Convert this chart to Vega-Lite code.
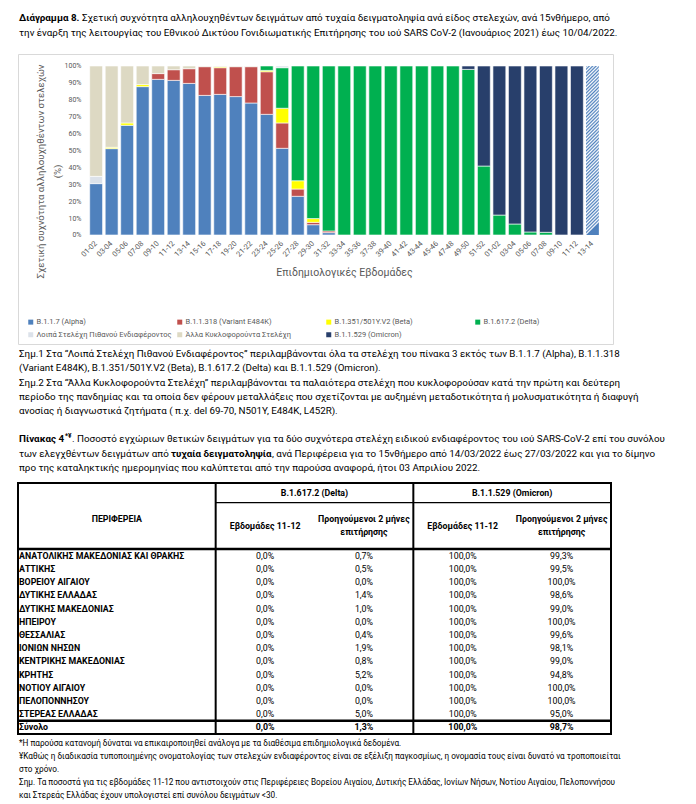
{
"$schema": "https://vega.github.io/schema/vega-lite/v6.json",
"padding": {"left": 15, "top": 0, "right": 0, "bottom": 0},
"spacing": 0,
"config": {
  "font": "Roboto",
  "view": {"stroke": null},
  "locale": {"number": {"decimal": ",", "thousands": ".", "grouping": [3], "currency": ["", " €"]}}
},
"datasets": {
  "cap": [
    {"id": "c1", "s": 0, "txt": "Διάγραμμα 8."},
    {"id": "c1", "s": 1, "txt": "Σχετική συχνότητα αλληλουχηθέντων δειγμάτων από τυχαία δειγματοληψία ανά είδος στελεχών, ανά 15νθήμερο, από"},
    {"id": "c2", "s": 0, "txt": "την έναρξη της λειτουργίας του Εθνικού Δικτύου Γονιδιωματικής Επιτήρησης του ιού SARS CoV-2 (Ιανουάριος 2021) έως 10/04/2022."}
  ],
  "variants": [
    {"v": "B.1.1.7 (Alpha)", "k": 1},
    {"v": "B.1.1.318 (Variant E484K)", "k": 2},
    {"v": "B.1.351/501Y.V2 (Beta)", "k": 3},
    {"v": "B.1.617.2 (Delta)", "k": 4},
    {"v": "Λοιπά Στελέχη Πιθανού Ενδιαφέροντος", "k": 5},
    {"v": "Άλλα Κυκλοφορούντα Στελέχη", "k": 6},
    {"v": "B.1.1.529 (Omicron)", "k": 7}
  ],
  "bars": [
    {"t": "2021/01-02", "v": "B.1.1.7 (Alpha)", "p": 30.4},
    {"t": "2021/01-02", "v": "Λοιπά Στελέχη Πιθανού Ενδιαφέροντος", "p": 4.3},
    {"t": "2021/01-02", "v": "Άλλα Κυκλοφορούντα Στελέχη", "p": 65.3},
    {"t": "2021/03-04", "v": "B.1.1.7 (Alpha)", "p": 51.1},
    {"t": "2021/03-04", "v": "B.1.351/501Y.V2 (Beta)", "p": 0.8},
    {"t": "2021/03-04", "v": "Άλλα Κυκλοφορούντα Στελέχη", "p": 48.1},
    {"t": "2021/05-06", "v": "B.1.1.7 (Alpha)", "p": 64.9},
    {"t": "2021/05-06", "v": "B.1.351/501Y.V2 (Beta)", "p": 1.4},
    {"t": "2021/05-06", "v": "Άλλα Κυκλοφορούντα Στελέχη", "p": 33.7},
    {"t": "2021/07-08", "v": "B.1.1.7 (Alpha)", "p": 87.8},
    {"t": "2021/07-08", "v": "B.1.351/501Y.V2 (Beta)", "p": 1.2},
    {"t": "2021/07-08", "v": "Άλλα Κυκλοφορούντα Στελέχη", "p": 11.0},
    {"t": "2021/09-10", "v": "B.1.1.7 (Alpha)", "p": 92.1},
    {"t": "2021/09-10", "v": "B.1.1.318 (Variant E484K)", "p": 3.4},
    {"t": "2021/09-10", "v": "Άλλα Κυκλοφορούντα Στελέχη", "p": 4.5},
    {"t": "2021/11-12", "v": "B.1.1.7 (Alpha)", "p": 91.5},
    {"t": "2021/11-12", "v": "B.1.1.318 (Variant E484K)", "p": 6.3},
    {"t": "2021/11-12", "v": "Άλλα Κυκλοφορούντα Στελέχη", "p": 2.2},
    {"t": "2021/13-14", "v": "B.1.1.7 (Alpha)", "p": 89.7},
    {"t": "2021/13-14", "v": "B.1.1.318 (Variant E484K)", "p": 8.7},
    {"t": "2021/13-14", "v": "Άλλα Κυκλοφορούντα Στελέχη", "p": 1.6},
    {"t": "2021/15-16", "v": "B.1.1.7 (Alpha)", "p": 82.6},
    {"t": "2021/15-16", "v": "B.1.1.318 (Variant E484K)", "p": 17.0},
    {"t": "2021/15-16", "v": "Άλλα Κυκλοφορούντα Στελέχη", "p": 0.4},
    {"t": "2021/17-18", "v": "B.1.1.7 (Alpha)", "p": 83.2},
    {"t": "2021/17-18", "v": "B.1.1.318 (Variant E484K)", "p": 15.8},
    {"t": "2021/17-18", "v": "B.1.351/501Y.V2 (Beta)", "p": 0.6},
    {"t": "2021/17-18", "v": "Άλλα Κυκλοφορούντα Στελέχη", "p": 0.4},
    {"t": "2021/19-20", "v": "B.1.1.7 (Alpha)", "p": 81.9},
    {"t": "2021/19-20", "v": "B.1.1.318 (Variant E484K)", "p": 17.7},
    {"t": "2021/19-20", "v": "Άλλα Κυκλοφορούντα Στελέχη", "p": 0.4},
    {"t": "2021/21-22", "v": "B.1.1.7 (Alpha)", "p": 78.1},
    {"t": "2021/21-22", "v": "B.1.1.318 (Variant E484K)", "p": 21.5},
    {"t": "2021/21-22", "v": "Άλλα Κυκλοφορούντα Στελέχη", "p": 0.4},
    {"t": "2021/23-24", "v": "B.1.1.7 (Alpha)", "p": 71.4},
    {"t": "2021/23-24", "v": "B.1.1.318 (Variant E484K)", "p": 25.2},
    {"t": "2021/23-24", "v": "B.1.351/501Y.V2 (Beta)", "p": 0.8},
    {"t": "2021/23-24", "v": "B.1.617.2 (Delta)", "p": 2.6},
    {"t": "2021/25-26", "v": "B.1.1.7 (Alpha)", "p": 51.3},
    {"t": "2021/25-26", "v": "B.1.1.318 (Variant E484K)", "p": 15.0},
    {"t": "2021/25-26", "v": "B.1.351/501Y.V2 (Beta)", "p": 8.7},
    {"t": "2021/25-26", "v": "B.1.617.2 (Delta)", "p": 24.0},
    {"t": "2021/25-26", "v": "Λοιπά Στελέχη Πιθανού Ενδιαφέροντος", "p": 1.0},
    {"t": "2021/27-28", "v": "B.1.1.7 (Alpha)", "p": 22.9},
    {"t": "2021/27-28", "v": "B.1.1.318 (Variant E484K)", "p": 4.3},
    {"t": "2021/27-28", "v": "B.1.351/501Y.V2 (Beta)", "p": 4.9},
    {"t": "2021/27-28", "v": "B.1.617.2 (Delta)", "p": 67.9},
    {"t": "2021/29-30", "v": "B.1.1.7 (Alpha)", "p": 6.1},
    {"t": "2021/29-30", "v": "B.1.1.318 (Variant E484K)", "p": 1.4},
    {"t": "2021/29-30", "v": "B.1.351/501Y.V2 (Beta)", "p": 2.2},
    {"t": "2021/29-30", "v": "B.1.617.2 (Delta)", "p": 90.3},
    {"t": "2021/31-32", "v": "B.1.1.7 (Alpha)", "p": 1.4},
    {"t": "2021/31-32", "v": "B.1.1.318 (Variant E484K)", "p": 1.0},
    {"t": "2021/31-32", "v": "B.1.617.2 (Delta)", "p": 97.6},
    {"t": "2021/33-34", "v": "B.1.617.2 (Delta)", "p": 100},
    {"t": "2021/35-36", "v": "B.1.617.2 (Delta)", "p": 100},
    {"t": "2021/37-38", "v": "B.1.617.2 (Delta)", "p": 100},
    {"t": "2021/39-40", "v": "B.1.617.2 (Delta)", "p": 100},
    {"t": "2021/41-42", "v": "B.1.617.2 (Delta)", "p": 100},
    {"t": "2021/43-44", "v": "B.1.617.2 (Delta)", "p": 100},
    {"t": "2021/45-46", "v": "B.1.617.2 (Delta)", "p": 100},
    {"t": "2021/47-48", "v": "B.1.617.2 (Delta)", "p": 100},
    {"t": "2021/49-50", "v": "B.1.617.2 (Delta)", "p": 98.0},
    {"t": "2021/49-50", "v": "B.1.1.529 (Omicron)", "p": 2.0},
    {"t": "2021/51-52", "v": "B.1.617.2 (Delta)", "p": 40.8},
    {"t": "2021/51-52", "v": "B.1.1.529 (Omicron)", "p": 59.2},
    {"t": "2022/01-02", "v": "B.1.617.2 (Delta)", "p": 11.8},
    {"t": "2022/01-02", "v": "B.1.1.529 (Omicron)", "p": 88.2},
    {"t": "2022/03-04", "v": "B.1.617.2 (Delta)", "p": 6.5},
    {"t": "2022/03-04", "v": "B.1.1.529 (Omicron)", "p": 93.5},
    {"t": "2022/05-06", "v": "B.1.617.2 (Delta)", "p": 1.8},
    {"t": "2022/05-06", "v": "B.1.1.529 (Omicron)", "p": 98.2},
    {"t": "2022/07-08", "v": "B.1.617.2 (Delta)", "p": 1.6},
    {"t": "2022/07-08", "v": "B.1.1.529 (Omicron)", "p": 98.4},
    {"t": "2022/09-10", "v": "B.1.1.529 (Omicron)", "p": 100},
    {"t": "2022/11-12", "v": "B.1.1.529 (Omicron)", "p": 100}
  ],
  "notes": [
    {"id": "n1", "s": 0, "txt": "Σημ.1 Στα “Λοιπά Στελέχη Πιθανού Ενδιαφέροντος” περιλαμβάνονται όλα τα στελέχη του πίνακα 3 εκτός των B.1.1.7 (Alpha), B.1.1.318"},
    {"id": "n2", "s": 0, "txt": "(Variant E484K), B.1.351/501Y.V2 (Beta), B.1.617.2 (Delta) και B.1.1.529 (Omicron)."},
    {"id": "n3", "s": 0, "txt": "Σημ.2 Στα “Άλλα Κυκλοφορούντα Στελέχη” περιλαμβάνονται τα παλαιότερα στελέχη που κυκλοφορούσαν κατά την πρώτη και δεύτερη"},
    {"id": "n4", "s": 0, "txt": "περίοδο της πανδημίας και τα οποία δεν φέρουν μεταλλάξεις που σχετίζονται με αυξημένη μεταδοτικότητα ή μολυσματικότητα ή διαφυγή"},
    {"id": "n5", "s": 0, "txt": "ανοσίας ή διαγνωστικά ζητήματα ( π.χ. del 69-70, N501Y, E484K, L452R)."},
    {"id": "t1", "s": 0, "txt": "Πίνακας 4"},
    {"id": "t1", "s": 1, "txt": "*¥"},
    {"id": "t1", "s": 2, "txt": ". Ποσοστό εγχώριων θετικών δειγμάτων για τα δύο συχνότερα στελέχη ειδικού ενδιαφέροντος του ιού SARS-CoV-2 επί του συνόλου"},
    {"id": "t2", "s": 0, "txt": "των ελεγχθέντων δειγμάτων από"},
    {"id": "t2", "s": 1, "txt": "τυχαία δειγματοληψία"},
    {"id": "t2", "s": 2, "txt": ", ανά Περιφέρεια για το 15νθήμερο από 14/03/2022 έως 27/03/2022 και για το δίμηνο"},
    {"id": "t3", "s": 0, "txt": "προ της καταληκτικής ημερομηνίας που καλύπτεται από την παρούσα αναφορά, ήτοι 03 Απριλίου 2022."}
  ],
  "hdr": [
    {"r": "H1", "c": "d2", "txt": "B.1.617.2 (Delta)"},
    {"r": "H1", "c": "o2", "txt": "B.1.1.529 (Omicron)"},
    {"r": "H3", "c": "reg2", "txt": "ΠΕΡΙΦΕΡΕΙΑ"},
    {"r": "H3", "c": "d2", "txt": "Προηγούμενοι 2 μήνες"},
    {"r": "H3", "c": "o2", "txt": "Προηγούμενοι 2 μήνες"},
    {"r": "H4", "c": "d2", "txt": "επιτήρησης"},
    {"r": "H4", "c": "o2", "txt": "επιτήρησης"},
    {"r": "H4", "c": "d1", "txt": "Εβδομάδες 11-12"},
    {"r": "H4", "c": "o1", "txt": "Εβδομάδες 11-12"}
  ],
  "tbl": [
    {"r": "R01", "n": "ΑΝΑΤΟΛΙΚΗΣ ΜΑΚΕΔΟΝΙΑΣ ΚΑΙ ΘΡΑΚΗΣ", "d1": 0, "d2": 0.007, "o1": 1, "o2": 0.993},
    {"r": "R02", "n": "ΑΤΤΙΚΗΣ", "d1": 0, "d2": 0.005, "o1": 1, "o2": 0.995},
    {"r": "R03", "n": "ΒΟΡΕΙΟΥ ΑΙΓΑΙΟΥ", "d1": 0, "d2": 0, "o1": 1, "o2": 1},
    {"r": "R04", "n": "ΔΥΤΙΚΗΣ ΕΛΛΑΔΑΣ", "d1": 0, "d2": 0.014, "o1": 1, "o2": 0.986},
    {"r": "R05", "n": "ΔΥΤΙΚΗΣ ΜΑΚΕΔΟΝΙΑΣ", "d1": 0, "d2": 0.01, "o1": 1, "o2": 0.99},
    {"r": "R06", "n": "ΗΠΕΙΡΟΥ", "d1": 0, "d2": 0, "o1": 1, "o2": 1},
    {"r": "R07", "n": "ΘΕΣΣΑΛΙΑΣ", "d1": 0, "d2": 0.004, "o1": 1, "o2": 0.996},
    {"r": "R08", "n": "ΙΟΝΙΩΝ ΝΗΣΩΝ", "d1": 0, "d2": 0.019, "o1": 1, "o2": 0.981},
    {"r": "R09", "n": "ΚΕΝΤΡΙΚΗΣ ΜΑΚΕΔΟΝΙΑΣ", "d1": 0, "d2": 0.008, "o1": 1, "o2": 0.99},
    {"r": "R10", "n": "ΚΡΗΤΗΣ", "d1": 0, "d2": 0.052, "o1": 1, "o2": 0.948},
    {"r": "R11", "n": "ΝΟΤΙΟΥ ΑΙΓΑΙΟΥ", "d1": 0, "d2": 0, "o1": 1, "o2": 1},
    {"r": "R12", "n": "ΠΕΛΟΠΟΝΝΗΣΟΥ", "d1": 0, "d2": 0, "o1": 1, "o2": 1},
    {"r": "R13", "n": "ΣΤΕΡΕΑΣ ΕΛΛΑΔΑΣ", "d1": 0, "d2": 0.05, "o1": 1, "o2": 0.95},
    {"r": "TOT", "n": "Σύνολο", "d1": 0, "d2": 0.013, "o1": 1, "o2": 0.987}
  ],
  "foot": [
    {"id": "f1", "txt": "\u00a0*Η παρούσα κατανομή δύναται να επικαιροποιηθεί ανάλογα με τα διαθέσιμα επιδημιολογικά δεδομένα."},
    {"id": "f2", "txt": "\u00a0¥Καθώς η διαδικασία τυποποιημένης ονοματολογίας των στελεχών ενδιαφέροντος είναι σε εξέλιξη παγκοσμίως, η ονομασία τους είναι δυνατό να τροποποιείται"},
    {"id": "f3", "txt": "\u00a0\u00a0\u00a0στο χρόνο."},
    {"id": "f4", "txt": "\u00a0\u00a0Σημ. Τα ποσοστά για τις εβδομάδες 11-12 που αντιστοιχούν στις Περιφέρειες Βορείου Αιγαίου, Δυτικής Ελλάδας, Ιονίων Νήσων, Νοτίου Αιγαίου, Πελοποννήσου"},
    {"id": "f5", "txt": "και Στερεάς Ελλάδας έχουν υπολογιστεί επί συνόλου δειγμάτων <30."}
  ]
},
"vconcat": [
  {
    "width": 681, "height": 53,
    "data": {"name": "cap"},
    "encoding": {
      "y": {"field": "id", "type": "nominal", "bandPosition": 0.5, "scale": {"type": "band", "domain": ["c1", "c2"], "paddingInner": 0, "paddingOuter": 0.767, "align": 0.457}, "axis": null},
      "x": {"datum": 0, "type": "quantitative", "scale": {"domain": [0, 1]}, "axis": null}
    },
    "layer": [
      {"transform": [{"filter": "datum.id == 'c1' && datum.s == 0"}], "mark": {"type": "text", "align": "left", "baseline": "middle", "fontSize": 9.8, "fontWeight": "bold", "dx": 1, "color": "#000"}, "encoding": {"text": {"field": "txt"}}},
      {"transform": [{"filter": "datum.id == 'c2'"}], "mark": {"type": "text", "align": "left", "baseline": "middle", "fontSize": 9.8, "dx": 1, "color": "#000"}, "encoding": {"text": {"field": "txt"}}},
      {"transform": [{"filter": "datum.id == 'c1' && datum.s == 1"}], "mark": {"type": "text", "align": "left", "baseline": "middle", "fontSize": 9.8, "dx": 64, "color": "#000"}, "encoding": {"text": {"field": "txt"}}}
    ]
  },
  {
    "width": 595, "height": 290,
    "view": {"stroke": "#d9d9d9", "strokeWidth": 1},
    "data": {"name": "bars"},
    "encoding": {
      "x": {"field": "t", "type": "ordinal",
        "scale": {"domain": ["p1","p2","p3","p4","2021/01-02","2021/03-04","2021/05-06","2021/07-08","2021/09-10","2021/11-12","2021/13-14","2021/15-16","2021/17-18","2021/19-20","2021/21-22","2021/23-24","2021/25-26","2021/27-28","2021/29-30","2021/31-32","2021/33-34","2021/35-36","2021/37-38","2021/39-40","2021/41-42","2021/43-44","2021/45-46","2021/47-48","2021/49-50","2021/51-52","2022/01-02","2022/03-04","2022/05-06","2022/07-08","2022/09-10","2022/11-12","2022/13-14"], "paddingInner": 0.17, "paddingOuter": 0.767, "align": 0.406},
        "axis": {"labelExpr": "slice(datum.label, 5)", "labelAngle": -45, "labelAlign": "right", "labelBaseline": "middle", "labelFontSize": 7.5, "labelColor": "#595959", "labelPadding": 7, "labelOverlap": false, "ticks": false, "domain": false, "offset": -109,
          "title": "Επιδημιολογικές Εβδομάδες", "titleFontSize": 10.5, "titleFontWeight": "normal", "titleColor": "#595959", "titleX": 326, "titleY": 37, "titleAlign": "center", "titleBaseline": "middle"}},
      "y": {"field": "p", "type": "quantitative", "stack": "zero",
        "scale": {"domain": [-64.5, 107.1], "nice": false, "zero": false},
        "axis": {"values": [0, 10, 20, 30, 40, 50, 60, 70, 80, 90, 100], "labelExpr": "datum.value + '%'", "offset": -66, "domain": false, "ticks": false, "grid": false, "labelFontSize": 7, "labelColor": "#595959", "labelPadding": 3,
          "title": ["Σχετική συχνότητα αλληλουχηθέντων στελεχών", "(%)"], "titleFontSize": 9.6, "titleFontWeight": "normal", "titleColor": "#595959", "titleX": -49, "titleY": 117, "titleAlign": "center", "titleBaseline": "top", "titleLineHeight": 17, "titleAngle": 270}}
    },
    "layer": [
      {
        "transform": [{"lookup": "v", "from": {"data": {"name": "variants"}, "key": "v", "fields": ["k"]}}],
        "mark": {"type": "bar", "stroke": "#ffffff", "strokeWidth": 0.6},
        "encoding": {
          "order": {"field": "k", "type": "quantitative", "sort": "ascending"},
          "color": {"field": "v", "type": "nominal",
            "sort": ["B.1.1.7 (Alpha)", "B.1.1.318 (Variant E484K)", "B.1.351/501Y.V2 (Beta)", "B.1.617.2 (Delta)", "Λοιπά Στελέχη Πιθανού Ενδιαφέροντος", "Άλλα Κυκλοφορούντα Στελέχη", "B.1.1.529 (Omicron)"],
            "scale": {"domain": ["B.1.1.7 (Alpha)", "B.1.1.318 (Variant E484K)", "B.1.351/501Y.V2 (Beta)", "B.1.617.2 (Delta)", "Λοιπά Στελέχη Πιθανού Ενδιαφέροντος", "Άλλα Κυκλοφορούντα Στελέχη", "B.1.1.529 (Omicron)"],
              "range": ["#4f81bd", "#c0504d", "#ffff00", "#00b050", "#dce2ea", "#ddd9c3", "#283f6b"]},
            "legend": {"orient": "none", "legendX": 9, "legendY": 318, "direction": "horizontal", "columns": 4, "gridAlign": "all", "columnPadding": 4, "rowPadding": 4, "title": null, "symbolType": "square", "symbolSize": 25, "symbolStrokeWidth": 0, "labelFontSize": 7.5, "labelColor": "#595959", "labelOffset": 2, "labelLimit": 300, "padding": 0}}
        }
      },
      {
        "data": {"values": [{"t": "2022/13-14", "p": 100}]},
        "mark": {"type": "bar", "color": {"gradient": "linear", "x1": 0, "y1": 0, "x2": 0.0763, "y2": 1, "stops": [
          {"offset": 0, "color": "#4f81bd"}, {"offset": 0.01, "color": "#fff"}, {"offset": 0.02, "color": "#4f81bd"}, {"offset": 0.03, "color": "#fff"}, {"offset": 0.04, "color": "#4f81bd"}, {"offset": 0.05, "color": "#fff"}, {"offset": 0.06, "color": "#4f81bd"}, {"offset": 0.07, "color": "#fff"}, {"offset": 0.08, "color": "#4f81bd"}, {"offset": 0.09, "color": "#fff"},
          {"offset": 0.1, "color": "#4f81bd"}, {"offset": 0.11, "color": "#fff"}, {"offset": 0.12, "color": "#4f81bd"}, {"offset": 0.13, "color": "#fff"}, {"offset": 0.14, "color": "#4f81bd"}, {"offset": 0.15, "color": "#fff"}, {"offset": 0.16, "color": "#4f81bd"}, {"offset": 0.17, "color": "#fff"}, {"offset": 0.18, "color": "#4f81bd"}, {"offset": 0.19, "color": "#fff"},
          {"offset": 0.2, "color": "#4f81bd"}, {"offset": 0.21, "color": "#fff"}, {"offset": 0.22, "color": "#4f81bd"}, {"offset": 0.23, "color": "#fff"}, {"offset": 0.24, "color": "#4f81bd"}, {"offset": 0.25, "color": "#fff"}, {"offset": 0.26, "color": "#4f81bd"}, {"offset": 0.27, "color": "#fff"}, {"offset": 0.28, "color": "#4f81bd"}, {"offset": 0.29, "color": "#fff"},
          {"offset": 0.3, "color": "#4f81bd"}, {"offset": 0.31, "color": "#fff"}, {"offset": 0.32, "color": "#4f81bd"}, {"offset": 0.33, "color": "#fff"}, {"offset": 0.34, "color": "#4f81bd"}, {"offset": 0.35, "color": "#fff"}, {"offset": 0.36, "color": "#4f81bd"}, {"offset": 0.37, "color": "#fff"}, {"offset": 0.38, "color": "#4f81bd"}, {"offset": 0.39, "color": "#fff"},
          {"offset": 0.4, "color": "#4f81bd"}, {"offset": 0.41, "color": "#fff"}, {"offset": 0.42, "color": "#4f81bd"}, {"offset": 0.43, "color": "#fff"}, {"offset": 0.44, "color": "#4f81bd"}, {"offset": 0.45, "color": "#fff"}, {"offset": 0.46, "color": "#4f81bd"}, {"offset": 0.47, "color": "#fff"}, {"offset": 0.48, "color": "#4f81bd"}, {"offset": 0.49, "color": "#fff"},
          {"offset": 0.5, "color": "#4f81bd"}, {"offset": 0.51, "color": "#fff"}, {"offset": 0.52, "color": "#4f81bd"}, {"offset": 0.53, "color": "#fff"}, {"offset": 0.54, "color": "#4f81bd"}, {"offset": 0.55, "color": "#fff"}, {"offset": 0.56, "color": "#4f81bd"}, {"offset": 0.57, "color": "#fff"}, {"offset": 0.58, "color": "#4f81bd"}, {"offset": 0.59, "color": "#fff"},
          {"offset": 0.6, "color": "#4f81bd"}, {"offset": 0.61, "color": "#fff"}, {"offset": 0.62, "color": "#4f81bd"}, {"offset": 0.63, "color": "#fff"}, {"offset": 0.64, "color": "#4f81bd"}, {"offset": 0.65, "color": "#fff"}, {"offset": 0.66, "color": "#4f81bd"}, {"offset": 0.67, "color": "#fff"}, {"offset": 0.68, "color": "#4f81bd"}, {"offset": 0.69, "color": "#fff"},
          {"offset": 0.7, "color": "#4f81bd"}, {"offset": 0.71, "color": "#fff"}, {"offset": 0.72, "color": "#4f81bd"}, {"offset": 0.73, "color": "#fff"}, {"offset": 0.74, "color": "#4f81bd"}, {"offset": 0.75, "color": "#fff"}, {"offset": 0.76, "color": "#4f81bd"}, {"offset": 0.77, "color": "#fff"}, {"offset": 0.78, "color": "#4f81bd"}, {"offset": 0.79, "color": "#fff"},
          {"offset": 0.8, "color": "#4f81bd"}, {"offset": 0.81, "color": "#fff"}, {"offset": 0.82, "color": "#4f81bd"}, {"offset": 0.83, "color": "#fff"}, {"offset": 0.84, "color": "#4f81bd"}, {"offset": 0.85, "color": "#fff"}, {"offset": 0.86, "color": "#4f81bd"}, {"offset": 0.87, "color": "#fff"}, {"offset": 0.88, "color": "#4f81bd"}, {"offset": 0.89, "color": "#fff"},
          {"offset": 0.9, "color": "#4f81bd"}, {"offset": 0.91, "color": "#fff"}, {"offset": 0.92, "color": "#4f81bd"}, {"offset": 0.93, "color": "#fff"}, {"offset": 0.94, "color": "#4f81bd"}, {"offset": 0.95, "color": "#fff"}, {"offset": 0.96, "color": "#4f81bd"}, {"offset": 0.97, "color": "#fff"}, {"offset": 0.98, "color": "#4f81bd"}, {"offset": 0.99, "color": "#fff"},
          {"offset": 1, "color": "#4f81bd"}
        ]}}
      }
    ]
  },
  {
    "width": 681, "height": 136,
    "data": {"name": "notes"},
    "encoding": {
      "y": {"field": "id", "type": "nominal", "bandPosition": 0.5, "scale": {"type": "band", "domain": ["n1", "n2", "n3", "n4", "n5", "gap", "t1", "t2", "t3"], "paddingInner": 0, "paddingOuter": 0.272, "align": 0.242}, "axis": null},
      "x": {"datum": 0, "type": "quantitative", "scale": {"domain": [0, 1]}, "axis": null}
    },
    "layer": [
      {"transform": [{"filter": "datum.s == 0 && datum.id != 't1'"}], "mark": {"type": "text", "align": "left", "baseline": "middle", "fontSize": 9.8, "dx": 1, "color": "#000"}, "encoding": {"text": {"field": "txt"}}},
      {"transform": [{"filter": "datum.id == 't1' && datum.s == 0"}], "mark": {"type": "text", "align": "left", "baseline": "middle", "fontSize": 9.8, "fontWeight": "bold", "dx": 1, "color": "#000"}, "encoding": {"text": {"field": "txt"}}},
      {"transform": [{"filter": "datum.id == 't1' && datum.s == 1"}], "mark": {"type": "text", "align": "left", "baseline": "middle", "fontSize": 6.5, "fontWeight": "bold", "dx": 47, "dy": -3, "color": "#000"}, "encoding": {"text": {"field": "txt"}}},
      {"transform": [{"filter": "datum.id == 't1' && datum.s == 2"}], "mark": {"type": "text", "align": "left", "baseline": "middle", "fontSize": 9.8, "dx": 54, "color": "#000"}, "encoding": {"text": {"field": "txt"}}},
      {"transform": [{"filter": "datum.id == 't2' && datum.s == 1"}], "mark": {"type": "text", "align": "left", "baseline": "middle", "fontSize": 9.8, "fontWeight": "bold", "dx": 153, "color": "#000"}, "encoding": {"text": {"field": "txt"}}},
      {"transform": [{"filter": "datum.id == 't2' && datum.s == 2"}], "mark": {"type": "text", "align": "left", "baseline": "middle", "fontSize": 9.8, "dx": 254, "color": "#000"}, "encoding": {"text": {"field": "txt"}}}
    ]
  },
  {
    "width": 593, "height": 251,
    "view": {"stroke": "#000", "strokeWidth": 2},
    "layer": [
      {"data": {"name": "hdr"}, "transform": [{"filter": "datum.r == 'H1' || datum.c == 'reg2'"}],
        "mark": {"type": "text", "align": "center", "baseline": "middle", "fontSize": 8.8, "fontWeight": "bold", "color": "#000"},
        "encoding": {
          "x": {"field": "c", "type": "nominal", "bandPosition": 0, "scale": {"type": "band", "domain": ["reg", "reg2", "d1", "d2", "o1", "o2"], "paddingInner": 0, "paddingOuter": 0}, "axis": null},
          "y": {"field": "r", "type": "nominal", "bandPosition": 0.73, "scale": {"type": "band", "domain": ["H1", "H2", "H3", "H4", "H5", "R01", "R02", "R03", "R04", "R05", "R06", "R07", "R08", "R09", "R10", "R11", "R12", "R13", "TOT"], "paddingInner": 0, "paddingOuter": 0}, "axis": null},
          "text": {"field": "txt"}}},
      {"data": {"name": "hdr"}, "transform": [{"filter": "(datum.r == 'H3' || datum.r == 'H4') && (datum.c == 'd2' || datum.c == 'o2')"}],
        "mark": {"type": "text", "align": "center", "baseline": "middle", "fontSize": 8.8, "fontWeight": "bold", "color": "#000"},
        "encoding": {
          "x": {"field": "c", "type": "nominal", "bandPosition": 0.5, "scale": {"type": "band", "domain": ["reg", "reg2", "d1", "d2", "o1", "o2"], "paddingInner": 0, "paddingOuter": 0}, "axis": null},
          "y": {"field": "r", "type": "nominal", "bandPosition": 0.73, "scale": {"type": "band", "domain": ["H1", "H2", "H3", "H4", "H5", "R01", "R02", "R03", "R04", "R05", "R06", "R07", "R08", "R09", "R10", "R11", "R12", "R13", "TOT"], "paddingInner": 0, "paddingOuter": 0}, "axis": null},
          "text": {"field": "txt"}}},
      {"data": {"name": "hdr"}, "transform": [{"filter": "datum.c == 'd1' || datum.c == 'o1'"}],
        "mark": {"type": "text", "align": "center", "baseline": "middle", "fontSize": 8.8, "fontWeight": "bold", "color": "#000"},
        "encoding": {
          "x": {"field": "c", "type": "nominal", "bandPosition": 0.5, "scale": {"type": "band", "domain": ["reg", "reg2", "d1", "d2", "o1", "o2"], "paddingInner": 0, "paddingOuter": 0}, "axis": null},
          "y": {"field": "r", "type": "nominal", "bandPosition": 0.23, "scale": {"type": "band", "domain": ["H1", "H2", "H3", "H4", "H5", "R01", "R02", "R03", "R04", "R05", "R06", "R07", "R08", "R09", "R10", "R11", "R12", "R13", "TOT"], "paddingInner": 0, "paddingOuter": 0}, "axis": null},
          "text": {"field": "txt"}}},
      {"data": {"name": "tbl"},
        "mark": {"type": "text", "align": "left", "baseline": "middle", "fontSize": 8.8, "fontWeight": "bold", "dx": 1, "color": "#000"},
        "encoding": {
          "x": {"datum": "reg", "type": "nominal", "bandPosition": 0, "scale": {"type": "band", "domain": ["reg", "reg2", "d1", "d2", "o1", "o2"], "paddingInner": 0, "paddingOuter": 0}, "axis": null},
          "y": {"field": "r", "type": "nominal", "bandPosition": 0.5, "scale": {"type": "band", "domain": ["H1", "H2", "H3", "H4", "H5", "R01", "R02", "R03", "R04", "R05", "R06", "R07", "R08", "R09", "R10", "R11", "R12", "R13", "TOT"], "paddingInner": 0, "paddingOuter": 0}, "axis": null},
          "text": {"field": "n"}}},
      {"data": {"name": "tbl"}, "transform": [{"filter": "datum.r != 'TOT'"}, {"fold": ["d1", "d2", "o1", "o2"], "as": ["c", "val"]}],
        "mark": {"type": "text", "align": "center", "baseline": "middle", "fontSize": 8.8, "color": "#000"},
        "encoding": {
          "x": {"field": "c", "type": "nominal", "bandPosition": 0.5, "scale": {"type": "band", "domain": ["reg", "reg2", "d1", "d2", "o1", "o2"], "paddingInner": 0, "paddingOuter": 0}, "axis": null},
          "y": {"field": "r", "type": "nominal", "bandPosition": 0.5, "scale": {"type": "band", "domain": ["H1", "H2", "H3", "H4", "H5", "R01", "R02", "R03", "R04", "R05", "R06", "R07", "R08", "R09", "R10", "R11", "R12", "R13", "TOT"], "paddingInner": 0, "paddingOuter": 0}, "axis": null},
          "text": {"field": "val", "type": "quantitative", "format": ".1%"}}},
      {"data": {"name": "tbl"}, "transform": [{"filter": "datum.r == 'TOT'"}, {"fold": ["d1", "d2", "o1", "o2"], "as": ["c", "val"]}],
        "mark": {"type": "text", "align": "center", "baseline": "middle", "fontSize": 8.8, "fontWeight": "bold", "color": "#000"},
        "encoding": {
          "x": {"field": "c", "type": "nominal", "bandPosition": 0.5, "scale": {"type": "band", "domain": ["reg", "reg2", "d1", "d2", "o1", "o2"], "paddingInner": 0, "paddingOuter": 0}, "axis": null},
          "y": {"field": "r", "type": "nominal", "bandPosition": 0.5, "scale": {"type": "band", "domain": ["H1", "H2", "H3", "H4", "H5", "R01", "R02", "R03", "R04", "R05", "R06", "R07", "R08", "R09", "R10", "R11", "R12", "R13", "TOT"], "paddingInner": 0, "paddingOuter": 0}, "axis": null},
          "text": {"field": "val", "type": "quantitative", "format": ".1%"}}},
      {"data": {"values": [{"c": "d1"}, {"c": "o1"}]},
        "mark": {"type": "rule", "color": "#000", "strokeWidth": 2},
        "encoding": {
          "x": {"field": "c", "type": "nominal", "bandPosition": 0, "scale": {"type": "band", "domain": ["reg", "reg2", "d1", "d2", "o1", "o2"], "paddingInner": 0, "paddingOuter": 0}, "axis": null}}},
      {"data": {"values": [{"r": "R01"}, {"r": "TOT"}]},
        "mark": {"type": "rule", "color": "#000", "strokeWidth": 2.5},
        "encoding": {
          "y": {"field": "r", "type": "nominal", "bandPosition": 0, "scale": {"type": "band", "domain": ["H1", "H2", "H3", "H4", "H5", "R01", "R02", "R03", "R04", "R05", "R06", "R07", "R08", "R09", "R10", "R11", "R12", "R13", "TOT"], "paddingInner": 0, "paddingOuter": 0}, "axis": null}}},
      {"data": {"values": [{"r": "H2", "c": "d1"}]},
        "mark": {"type": "rule", "color": "#000", "strokeWidth": 1.3},
        "encoding": {
          "x": {"field": "c", "type": "nominal", "bandPosition": 0, "scale": {"type": "band", "domain": ["reg", "reg2", "d1", "d2", "o1", "o2"], "paddingInner": 0, "paddingOuter": 0}, "axis": null},
          "x2": {"value": "width"},
          "y": {"field": "r", "type": "nominal", "bandPosition": 0.48, "scale": {"type": "band", "domain": ["H1", "H2", "H3", "H4", "H5", "R01", "R02", "R03", "R04", "R05", "R06", "R07", "R08", "R09", "R10", "R11", "R12", "R13", "TOT"], "paddingInner": 0, "paddingOuter": 0}, "axis": null}}}
    ]
  },
  {
    "width": 681, "height": 68,
    "data": {"name": "foot"},
    "encoding": {
      "y": {"field": "id", "type": "nominal", "bandPosition": 0.5, "scale": {"type": "band", "domain": ["f1", "f2", "f3", "f4", "f5"], "paddingInner": 0, "paddingOuter": 0.095, "align": 0.46}, "axis": null},
      "x": {"datum": 0, "type": "quantitative", "scale": {"domain": [0, 1]}, "axis": null}
    },
    "layer": [
      {"mark": {"type": "text", "align": "left", "baseline": "middle", "fontSize": 8.2, "dx": 1, "color": "#000"}, "encoding": {"text": {"field": "txt"}}}
    ]
  }
]
}
